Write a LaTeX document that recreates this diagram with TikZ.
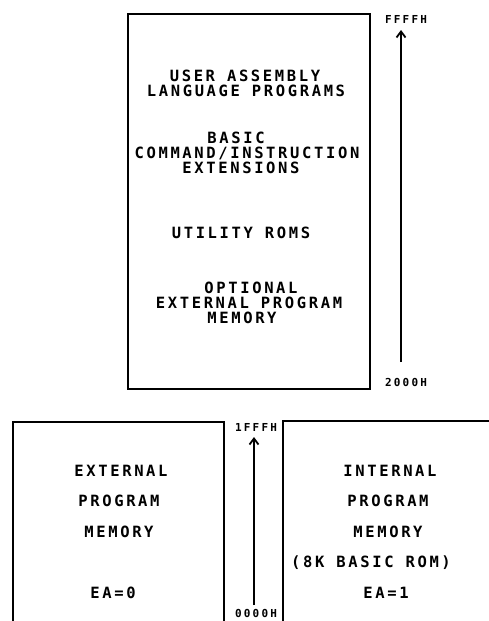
\documentclass[tikz,border=0pt]{standalone}
\usepackage{fontspec}
\newfontfamily\plotfont[LetterSpace=17]{DejaVu Sans Mono Bold}
\newfontfamily\addrfont[LetterSpace=20]{DejaVu Sans Mono Bold}
\usetikzlibrary{arrows.meta}
\tikzset{
  memtext/.style={font=\plotfont\fontsize{15.5}{15.5}\selectfont, inner sep=0pt},
  addr/.style={font=\addrfont\fontsize{11}{11}\selectfont, inner sep=0pt},
  membox/.style={draw, line width=1.8pt},
  uparrow/.style={line width=1.8pt, -{Straight Barb[length=6pt,width=9pt,line width=1.8pt]}}
}
\begin{document}
\begin{tikzpicture}[x=1pt,y=-1pt]
\useasboundingbox (0,0) rectangle (489,621);
\clip (0,0) rectangle (489,621);

% upper memory map block: 2000H .. FFFFH
\draw[membox] (128,14) rectangle (370,389);
\node[memtext] (user1) at (245,76)  {USER ASSEMBLY};
\node[memtext] (user2) at (246,91)  {LANGUAGE PROGRAMS};
\node[memtext] (bas1)  at (236,138) {BASIC};
\node[memtext] (bas2)  at (247,153) {COMMAND/INSTRUCTION};
\node[memtext] (bas3)  at (241,168) {EXTENSIONS};
\node[memtext] (util)  at (241,233) {UTILITY ROMS};
\node[memtext] (opt1)  at (251,288) {OPTIONAL};
\node[memtext] (opt2)  at (249,303) {EXTERNAL PROGRAM};
\node[memtext] (opt3)  at (242,318) {MEMORY};

\node[addr] (ffff)  at (406,19)  {FFFFH};
\node[addr] (k2000) at (406,382) {2000H};
\coordinate (upLow)  at (401,362);
\coordinate (upHigh) at (401,30);
\draw[uparrow] (upLow) -- (upHigh);

% lower memory blocks: 0000H .. 1FFFH (open below)
\draw[membox] (13,630) -- (13,422) -- (224,422) -- (224,630);
\draw[membox] (283,630) -- (283,421) -- (495,421);

\node[memtext] (ext1) at (121,471) {EXTERNAL};
\node[memtext] (ext2) at (119,501) {PROGRAM};
\node[memtext] (ext3) at (119,532) {MEMORY};
\node[memtext] (ea0)  at (113,593) {EA=0};

\node[memtext] (int1) at (390,471) {INTERNAL};
\node[memtext] (int2) at (388,501) {PROGRAM};
\node[memtext] (int3) at (388,532) {MEMORY};
\node[memtext] (int4) at (371,563) {(8K BASIC ROM)};
\node[memtext] (ea1)  at (386,593) {EA=1};

\node[addr] (k1fff) at (256,427) {1FFFH};
\node[addr] (k0000) at (256,613) {0000H};
\coordinate (loLow)  at (254,605);
\coordinate (loHigh) at (254,437);
\draw[uparrow] (loLow) -- (loHigh);
\end{tikzpicture}
\end{document}
